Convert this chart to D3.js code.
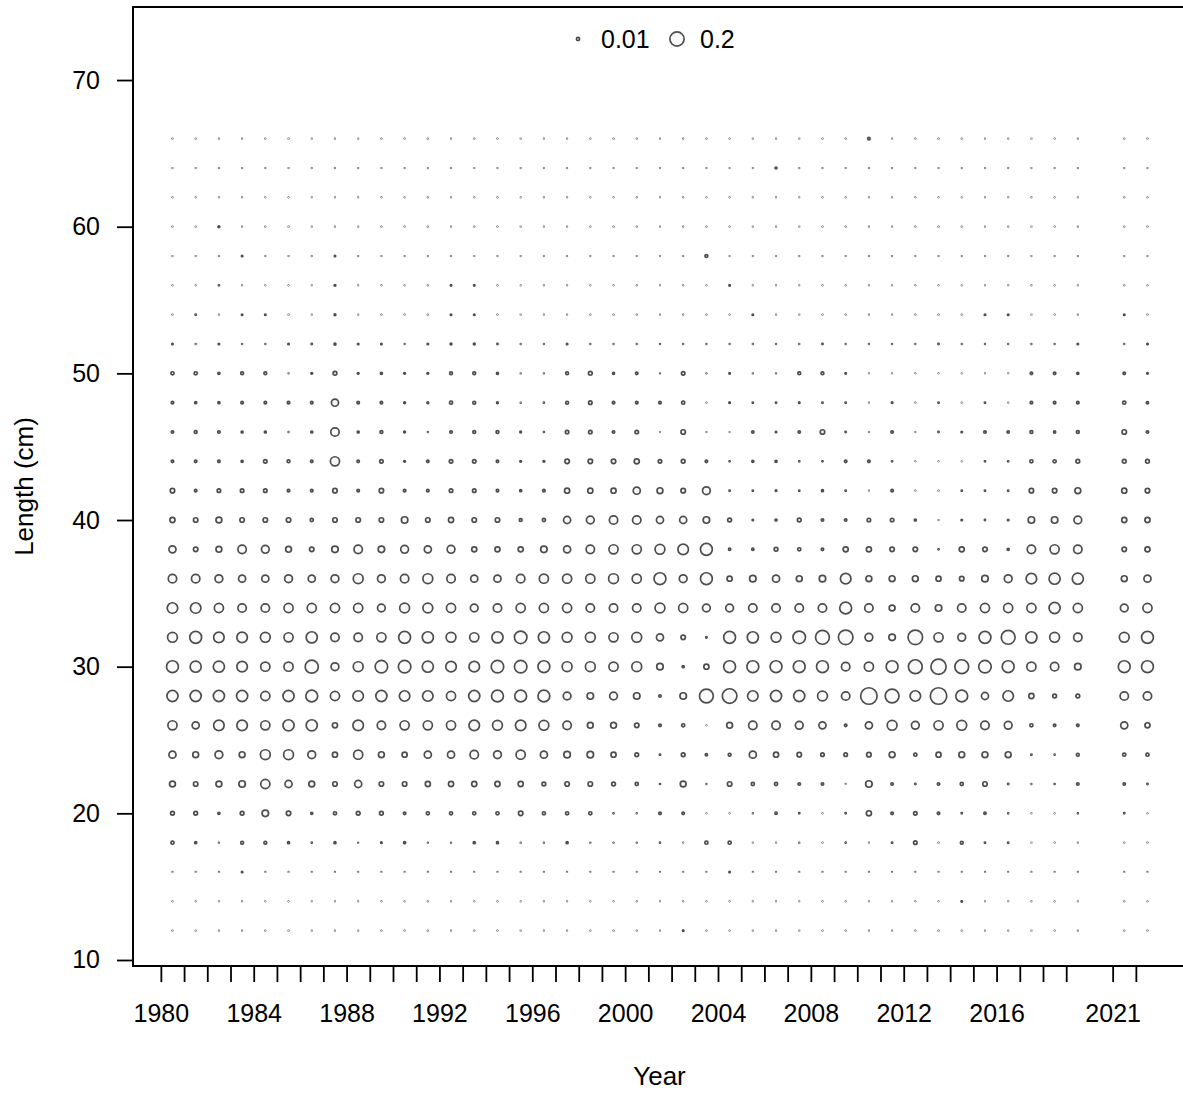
<!DOCTYPE html>
<html lang="en">
<head>
    <meta charset="UTF-8">
    <title>Length composition by year</title>
    <script src="https://cdn.jsdelivr.net/npm/d3@7"></script>
    <style>
        body {
            margin: 0;
            background-color: white;
        }
        svg {
            display: block;
            font-family: "Liberation Sans", Arial, sans-serif;
        }
        .bubble {
            stroke: #4d4d4d;
            stroke-width: 1.7px;
            fill: #fafafa;
        }
        .tick line {
            stroke: black;
            stroke-width: 1.8px;
        }
        .tick text {
            font-size: 25px;
            fill: black;
        }
    </style>
</head>
<body>
    <svg id="chart" width="1183" height="1095"></svg>
    <script>
        // years with samples (no 2020)
        const years = [1980, 1981, 1982, 1983, 1984, 1985, 1986, 1987, 1988, 1989,
            1990, 1991, 1992, 1993, 1994, 1995, 1996, 1997, 1998, 1999,
            2000, 2001, 2002, 2003, 2004, 2005, 2006, 2007, 2008, 2009,
            2010, 2011, 2012, 2013, 2014, 2015, 2016, 2017, 2018, 2019,
            2021, 2022]
        const yearLabels = [1980, 1984, 1988, 1992, 1996, 2000, 2004, 2008, 2012, 2016, 2021]
        const lengthTicks = [10, 20, 30, 40, 50, 60, 70]
        const legendValues = [0.01, 0.2]

        // proportion at length, one value per year above
        const len12 = [.0003,.0003,.0003,.0003,.0003,.0003,.0003,.0003,.0003,.0003,.0003,.0003,.0003,.0003,.0003,.0003,.0003,.0003,.0003,.0003,.0003,
            .0003,.002,.0003,.0003,.0003,.0003,.0003,.0003,.0003,.0003,.0003,.0003,.0003,.0003,.0003,.0003,.0003,.0003,.0003,.0003,.0003]
        const len14 = [.0003,.0003,.0003,.0003,.0003,.0003,.0003,.0003,.0003,.0003,.0003,.0003,.0003,.0003,.0003,.0003,.0003,.0003,.0003,.0003,.0003,
            .0003,.0003,.0003,.0003,.0003,.0003,.0003,.0003,.0003,.0003,.0003,.0003,.0003,.002,.0003,.0003,.0003,.0003,.0003,.0003,.0003]
        const len16 = [.0003,.0003,.0003,.002,.0003,.0003,.0003,.0003,.0003,.0003,.0003,.0003,.0003,.0003,.0003,.0003,.0003,.0003,.0003,.0003,.0003,
            .0003,.0003,.0003,.002,.0003,.0003,.0003,.0003,.0003,.0003,.0003,.0003,.0003,.0003,.0003,.0003,.0003,.0003,.0003,.0003,.0003]
        const len18 = [.01,.004,.0005,.008,.008,.004,.001,.004,.0005,.002,.004,.0005,.0005,.004,.004,.0005,.0005,.004,.0005,.0005,.0005,
            .001,.0003,.01,.01,.0003,.0003,.0005,.0003,.001,.0003,.0015,.012,.0003,.008,.0015,.0015,.0003,.0003,.0003,.0003,.0003]
        const len20 = [.014,.014,.004,.014,.042,.02,.004,.01,.014,.014,.006,.01,.01,.01,.01,.02,.01,.01,.01,.001,.0005,
            .006,.006,.0003,.0003,.0005,.005,.0015,.0003,.0015,.026,.006,.012,.006,.0015,.005,.001,.0003,.0003,.001,.0015,.0003]
        const len22 = [.034,.02,.034,.042,.083,.05,.034,.02,.05,.02,.02,.026,.026,.026,.026,.026,.014,.02,.02,.014,.01,
            .001,.034,.0005,.02,.01,.01,.006,.006,.0003,.042,.006,.0015,.006,.01,.02,.0015,.0005,.001,.006,.005,.0015]
        const len24 = [.05,.034,.06,.034,.096,.096,.06,.026,.083,.034,.026,.05,.05,.07,.06,.083,.05,.042,.042,.026,.014,
            .0015,.014,.005,.008,.05,.026,.02,.012,.012,.02,.034,.01,.026,.034,.034,.034,.0015,.001,.008,.01,.01]
        const len26 = [.083,.05,.11,.11,.083,.123,.123,.026,.11,.07,.083,.083,.083,.11,.096,.11,.096,.07,.034,.034,.02,
            .006,.01,.0003,.034,.07,.07,.06,.05,.006,.05,.096,.06,.083,.096,.07,.06,.01,.006,.006,.05,.026]
        const len28 = [.123,.123,.123,.123,.083,.123,.14,.083,.11,.123,.11,.11,.083,.123,.14,.14,.14,.06,.042,.06,.042,
            .006,.042,.19,.21,.11,.123,.123,.096,.07,.27,.19,.11,.27,.14,.05,.11,.026,.014,.014,.07,.07]
        const len30 = [.14,.123,.123,.11,.083,.083,.17,.06,.096,.155,.155,.123,.11,.11,.155,.155,.14,.096,.096,.083,.096,
            .042,.004,.026,.14,.14,.14,.14,.14,.07,.083,.14,.19,.23,.19,.155,.14,.083,.07,.042,.14,.14]
        const len32 = [.096,.14,.11,.11,.096,.083,.123,.07,.07,.083,.14,.123,.096,.083,.123,.155,.123,.096,.096,.083,.096,
            .05,.02,.002,.14,.123,.096,.155,.19,.21,.06,.042,.21,.083,.06,.14,.19,.123,.096,.07,.096,.14]
        const len34 = [.11,.11,.083,.07,.07,.083,.083,.083,.083,.06,.096,.096,.083,.06,.07,.083,.083,.083,.07,.07,.07,
            .096,.083,.06,.06,.07,.07,.07,.07,.14,.07,.034,.07,.042,.07,.083,.083,.083,.123,.083,.06,.083]
        const len36 = [.07,.07,.06,.05,.05,.06,.05,.06,.096,.06,.07,.096,.07,.05,.05,.07,.083,.083,.083,.096,.083,
            .14,.06,.14,.026,.042,.05,.034,.042,.11,.034,.034,.034,.026,.02,.042,.06,.11,.123,.123,.034,.05]
        const len38 = [.05,.02,.034,.07,.06,.034,.02,.042,.07,.042,.06,.05,.06,.026,.026,.026,.042,.05,.07,.083,.083,
            .096,.11,.14,.005,.005,.014,.01,.006,.026,.026,.02,.02,.0015,.026,.02,.004,.07,.083,.07,.02,.026]
        const len40 = [.026,.02,.034,.02,.02,.02,.01,.02,.02,.02,.042,.02,.026,.02,.02,.008,.01,.05,.06,.07,.07,
            .05,.05,.042,.014,.002,.004,.014,.006,.006,.012,.012,.004,.0003,.002,.0015,.002,.042,.042,.06,.026,.026]
        const len42 = [.02,.006,.012,.012,.012,.006,.006,.02,.006,.02,.006,.006,.012,.012,.006,.004,.006,.026,.026,.026,.05,
            .034,.02,.06,.0015,.0015,.002,.0015,.004,.0015,.0003,.006,.0003,.0003,.0015,.0015,.0015,.02,.02,.034,.026,.02]
        const len44 = [.006,.006,.006,.004,.012,.008,.006,.083,.006,.012,.003,.006,.012,.012,.006,.003,.003,.02,.02,.02,.026,
            .012,.014,.006,.0015,.004,.004,.0015,.0015,.006,.006,.0015,.0003,.0003,.0003,.0015,.0015,.01,.01,.014,.014,.014]
        const len46 = [.006,.008,.006,.004,.004,.0005,.004,.07,.004,.008,.003,.0005,.006,.008,.008,.003,.001,.012,.012,.006,.012,
            .0003,.02,.0003,.0003,.005,.002,.005,.02,.0015,.0003,.006,.0003,.0015,.002,.006,.005,.008,.005,.008,.02,.006]
        const len48 = [.006,.004,.004,.006,.006,.006,.006,.05,.006,.006,.003,.003,.01,.008,.003,.0005,.001,.008,.012,.006,.006,
            .006,.01,.0003,.002,.0015,.0015,.002,.0015,.0015,.0003,.002,.0003,.0015,.0003,.0015,.0003,.006,.006,.006,.01,.005]
        const len50 = [.01,.01,.004,.008,.008,.0005,.003,.014,.003,.004,.003,.003,.008,.008,.004,.0005,.0005,.008,.014,.004,.006,
            .0005,.012,.0005,.002,.0005,.0005,.008,.008,.002,.0003,.0003,.0003,.0003,.0003,.0003,.0003,.006,.006,.004,.006,.002]
        const len52 = [.002,.0005,.002,.0005,.0005,.002,.0015,.004,.002,.002,.0005,.002,.003,.003,.0015,.0005,.0005,.002,.0005,.0005,.0005,
            .0005,.0005,.0005,.0005,.0005,.0005,.0005,.0015,.0005,.0005,.0005,.0005,.0015,.0005,.0005,.0005,.0005,.0005,.002,.0005,.002]
        const len54 = [.0003,.0015,.0003,.002,.002,.0003,.0003,.003,.0003,.0003,.0003,.0003,.002,.002,.0003,.0003,.0003,.0003,.0003,.0003,.0003,
            .0003,.0003,.0003,.0003,.002,.0003,.0003,.0003,.0003,.0003,.0003,.0003,.0003,.0003,.002,.002,.0003,.0003,.0003,.002,.0003]
        const len56 = [.0003,.0003,.0015,.0003,.0003,.0003,.0003,.003,.0003,.0003,.0003,.0003,.002,.002,.0003,.0003,.0003,.0003,.0003,.0003,.0003,
            .0003,.0003,.0003,.002,.0003,.0003,.0003,.0003,.0003,.0003,.0003,.0003,.0003,.0003,.0003,.0003,.0003,.0003,.0003,.0003,.0003]
        const len58 = [.0003,.0003,.0003,.002,.0003,.0003,.0003,.002,.0003,.0003,.0003,.0003,.0003,.0003,.0003,.0003,.0003,.0003,.0003,.0003,.0003,
            .0003,.0003,.008,.0003,.0003,.0003,.0003,.0003,.0003,.0003,.0003,.0003,.0003,.0003,.0003,.0003,.0003,.0003,.0003,.0003,.0003]
        const len60 = [.0003,.0003,.003,.0003,.0003,.0003,.0003,.0003,.0003,.0003,.0003,.0003,.0003,.0003,.0003,.0003,.0003,.0003,.0003,.0003,.0003,
            .0003,.0003,.0003,.0003,.0003,.0003,.0003,.0003,.0003,.0003,.0003,.0003,.0003,.0003,.0003,.0003,.0003,.0003,.0003,.0003,.0003]
        const len62 = [.0003,.0003,.0003,.0003,.0003,.0003,.0003,.0003,.0003,.0003,.0003,.0003,.0003,.0003,.0003,.0003,.0003,.0003,.0003,.0003,.0003,
            .0003,.0003,.0003,.0003,.0003,.0003,.0003,.0003,.0003,.0003,.0003,.0003,.0003,.0003,.0003,.0003,.0003,.0003,.0003,.0003,.0003]
        const len64 = [.0003,.0003,.0003,.0003,.0003,.0003,.0003,.0003,.0003,.0003,.0003,.0003,.0003,.0003,.0003,.0003,.0003,.0003,.0003,.0003,.0003,
            .0003,.0003,.0003,.0003,.0003,.003,.0003,.0003,.0003,.0003,.0003,.0003,.0003,.0003,.0003,.0003,.0003,.0003,.0003,.0003,.0003]
        const len66 = [.0003,.0003,.0003,.0003,.0003,.0003,.0003,.0003,.0003,.0003,.0003,.0003,.0003,.0003,.0003,.0003,.0003,.0003,.0003,.0003,.0003,
            .0003,.0003,.0003,.0003,.0003,.0003,.0003,.0003,.0003,.006,.0003,.0003,.0003,.0003,.0003,.0003,.0003,.0003,.0003,.0003,.0003]

        const lengths = [12, 14, 16, 18, 20, 22, 24, 26, 28, 30, 32, 34, 36, 38,
            40, 42, 44, 46, 48, 50, 52, 54, 56, 58, 60, 62, 64, 66]
        const rows = [len12, len14, len16, len18, len20, len22, len24, len26, len28, len30,
            len32, len34, len36, len38, len40, len42, len44, len46, len48, len50,
            len52, len54, len56, len58, len60, len62, len64, len66]

        // long table: one record per bubble
        let comps = []
        rows.forEach((vals, i) => {
            vals.forEach((v, j) => {
                comps.push({year: years[j], len: lengths[i], prop: v})
            })
        })

        const box = {left: 133, top: 7, right: 1186, bottom: 966}
        let svg = d3.select("#chart")

        let xScale = d3.scaleLinear()
            .domain([1978.8, 2024.16])
            .range([box.left, box.right])
        let yScale = d3.scaleLinear()
            .domain([9.59, 74.98])
            .range([box.bottom, box.top])
        let rScale = d3.scaleSqrt()
            .domain([0, 0.2])
            .range([0, 7.1])

        // bubbles sit half a year to the right of the tick
        svg.append("g")
            .selectAll("circle")
            .data(comps)
            .enter()
            .append("circle")
            .attr("class", "bubble")
            .attr("cx", d => xScale(d.year + 0.5))
            .attr("cy", d => yScale(d.len))
            .attr("r", d => rScale(d.prop))

        let xAxis = d3.axisBottom(xScale)
            .tickValues(years)
            .tickSize(16)
            .tickPadding(22)
            .tickFormat(d => yearLabels.includes(d) ? d : "")
        svg.append("g")
            .attr("transform", `translate(0,${box.bottom})`)
            .call(xAxis)
            .call(g => g.select(".domain").remove())

        let yAxis = d3.axisLeft(yScale)
            .tickValues(lengthTicks)
            .tickSize(16)
            .tickPadding(17)
        svg.append("g")
            .attr("transform", `translate(${box.left},0)`)
            .call(yAxis)
            .call(g => g.select(".domain").remove())

        svg.append("rect")
            .attr("x", box.left)
            .attr("y", box.top)
            .attr("width", box.right - box.left)
            .attr("height", box.bottom - box.top)
            .attr("fill", "none")
            .attr("stroke", "black")
            .attr("stroke-width", 2)

        // legend at top centre
        let legendX = [578, 677]
        let legend = svg.append("g")
        legend.selectAll("circle")
            .data(legendValues)
            .enter()
            .append("circle")
            .attr("class", "bubble")
            .attr("cx", (d, i) => legendX[i])
            .attr("cy", 39)
            .attr("r", d => rScale(d))
        legend.selectAll("text")
            .data(legendValues)
            .enter()
            .append("text")
            .attr("x", (d, i) => legendX[i] + 23)
            .attr("y", 48)
            .attr("font-size", "25px")
            .text(d => d)

        svg.append("text")
            .attr("x", (box.left + box.right) / 2)
            .attr("y", 1085)
            .attr("text-anchor", "middle")
            .attr("font-size", "26px")
            .text("Year")

        svg.append("text")
            .attr("transform", `translate(33,${(box.top + box.bottom) / 2}) rotate(-90)`)
            .attr("text-anchor", "middle")
            .attr("font-size", "26px")
            .text("Length (cm)")
    </script>
</body>
</html>
